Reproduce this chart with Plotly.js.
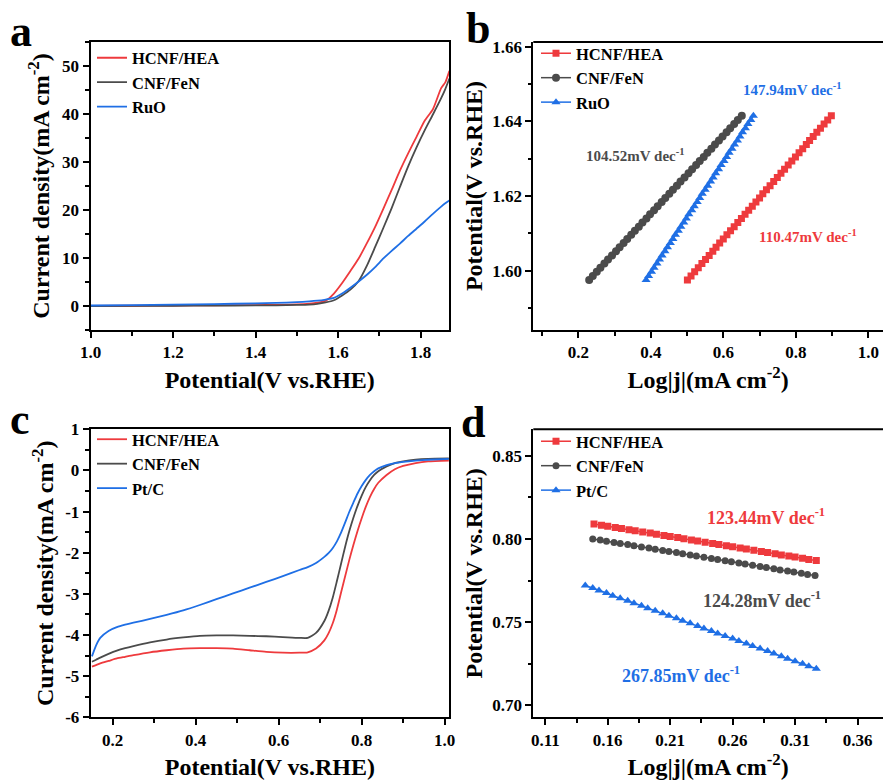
<!DOCTYPE html>
<html><head><meta charset="utf-8">
<script src="https://cdn.plot.ly/plotly-3.0.1.min.js"></script>
<style>html,body{margin:0;padding:0;background:#fff}#chart{width:883px;height:780px}</style>
</head><body><div id="chart"></div>
<script>
// ---------- Panel a : OER LSV ----------
const potA   = [1.00,1.10,1.20,1.30,1.40,1.45,1.50,1.53,1.55,1.57,1.59,1.61,1.63,1.65,1.67,1.69,1.71,1.73,1.75,1.77,1.79,1.81,1.83,1.85,1.86,1.87];
const hcnfA  = [0.0,0.05,0.1,0.15,0.2,0.25,0.35,0.5,0.7,1.1,2.6,4.8,7.3,9.9,13.1,16.5,20.3,24.2,28.2,31.8,35.2,38.6,41.0,45.4,46.6,49.0];
const cnfA   = [0.0,0.02,0.05,0.08,0.12,0.15,0.22,0.3,0.45,0.75,1.2,2.2,3.4,5.2,8.4,12.3,16.3,20.4,24.8,29.1,33.0,36.6,39.9,43.3,45.2,47.4];
const ruoA   = [0.1,0.2,0.3,0.4,0.55,0.65,0.8,0.95,1.1,1.35,1.7,2.6,3.8,5.1,6.5,8.1,9.9,11.5,13.0,14.6,16.1,17.6,19.2,20.7,21.4,22.0];
const ticksAx = [1.0,1.2,1.4,1.6,1.8];          const labelsAx = ['1.0','1.2','1.4','1.6','1.8'];
const ticksAy = [0,10,20,30,40,50];             const labelsAy = ['0','10','20','30','40','50'];

// ---------- Panel b : OER Tafel ----------
const potB   = [1.5975,1.5986,1.5997,1.6008,1.6019,1.6030,1.6041,1.6052,1.6063,1.6074,1.6085,1.6096,1.6107,1.6118,1.6129,1.6140,1.6151,1.6162,1.6173,1.6184,1.6195,1.6206,1.6217,1.6228,1.6239,1.6250,1.6261,1.6272,1.6283,1.6294,1.6305,1.6316,1.6327,1.6338,1.6349,1.6360,1.6371,1.6382,1.6393,1.6404,1.6415];
const logjB_hcnf = [0.501,0.511,0.521,0.531,0.541,0.551,0.561,0.571,0.580,0.590,0.600,0.610,0.620,0.630,0.640,0.650,0.660,0.670,0.680,0.690,0.700,0.709,0.719,0.729,0.739,0.749,0.759,0.769,0.779,0.789,0.799,0.809,0.819,0.829,0.838,0.848,0.858,0.868,0.878,0.888,0.898];
const logjB_cnf  = [0.230,0.240,0.251,0.261,0.272,0.282,0.293,0.304,0.314,0.325,0.335,0.346,0.356,0.367,0.377,0.388,0.398,0.409,0.419,0.430,0.440,0.451,0.461,0.472,0.482,0.493,0.504,0.514,0.525,0.535,0.546,0.556,0.567,0.577,0.588,0.598,0.609,0.619,0.630,0.640,0.651];
const logjB_ruo  = [0.387,0.394,0.402,0.409,0.417,0.424,0.431,0.439,0.446,0.454,0.461,0.468,0.476,0.483,0.491,0.498,0.505,0.513,0.520,0.528,0.535,0.542,0.550,0.557,0.565,0.572,0.579,0.587,0.594,0.602,0.609,0.616,0.624,0.631,0.639,0.646,0.653,0.661,0.668,0.676,0.683];
const slopeB = ['110.47','104.52','147.94'];
const ticksBx = [0.2,0.4,0.6,0.8,1.0];          const labelsBx = ['0.2','0.4','0.6','0.8','1.0'];
const ticksBy = [1.60,1.62,1.64,1.66];          const labelsBy = ['1.60','1.62','1.64','1.66'];

// ---------- Panel c : ORR LSV ----------
const potC  = [0.15,0.16,0.17,0.19,0.21,0.23,0.25,0.29,0.33,0.37,0.41,0.45,0.49,0.53,0.57,0.61,0.65,0.67,0.69,0.71,0.72,0.73,0.74,0.75,0.76,0.77,0.78,0.79,0.80,0.81,0.82,0.83,0.84,0.86,0.88,0.90,0.93,0.96,1.01];
const hcnfC = [-4.77,-4.73,-4.69,-4.63,-4.57,-4.53,-4.49,-4.42,-4.37,-4.33,-4.32,-4.32,-4.33,-4.37,-4.41,-4.43,-4.43,-4.42,-4.33,-4.13,-3.96,-3.72,-3.39,-2.98,-2.58,-2.18,-1.81,-1.47,-1.16,-0.88,-0.64,-0.45,-0.30,-0.11,0.03,0.11,0.18,0.22,0.24];
const cnfC  = [-4.65,-4.60,-4.55,-4.46,-4.38,-4.32,-4.27,-4.18,-4.11,-4.06,-4.02,-4.01,-4.01,-4.02,-4.03,-4.05,-4.07,-4.07,-3.95,-3.66,-3.42,-3.10,-2.70,-2.28,-1.86,-1.48,-1.15,-0.86,-0.61,-0.40,-0.24,-0.11,-0.02,0.10,0.18,0.22,0.26,0.28,0.29];
const ptcC  = [-4.52,-4.25,-4.07,-3.90,-3.81,-3.75,-3.70,-3.61,-3.51,-3.40,-3.27,-3.13,-2.99,-2.85,-2.71,-2.57,-2.42,-2.35,-2.25,-2.10,-2.01,-1.89,-1.73,-1.52,-1.27,-1.01,-0.78,-0.56,-0.38,-0.23,-0.11,-0.02,0.05,0.13,0.18,0.21,0.24,0.26,0.28];
const ticksCx = [0.2,0.4,0.6,0.8,1.0];          const labelsCx = ['0.2','0.4','0.6','0.8','1.0'];
const ticksCy = [-6,-5,-4,-3,-2,-1,0,1];        const labelsCy = ['-6','-5','-4','-3','-2','-1','0','1'];

// ---------- Panel d : ORR Tafel ----------
const logjD_hcnf = [0.149,0.155,0.160,0.166,0.171,0.177,0.182,0.188,0.194,0.199,0.205,0.210,0.216,0.221,0.227,0.232,0.238,0.244,0.249,0.255,0.260,0.266,0.271,0.277,0.283,0.288,0.294,0.299,0.305,0.310,0.316,0.321,0.327];
const potD_hcnf  = [0.8090,0.8083,0.8076,0.8069,0.8063,0.8056,0.8049,0.8042,0.8035,0.8028,0.8021,0.8014,0.8008,0.8001,0.7994,0.7987,0.7980,0.7973,0.7966,0.7959,0.7953,0.7946,0.7939,0.7932,0.7925,0.7918,0.7911,0.7904,0.7898,0.7891,0.7884,0.7877,0.7870];
const logjD_cnf  = [0.148,0.154,0.159,0.165,0.170,0.176,0.181,0.187,0.193,0.198,0.204,0.209,0.215,0.220,0.226,0.231,0.237,0.243,0.248,0.254,0.259,0.265,0.270,0.276,0.282,0.287,0.293,0.298,0.304,0.309,0.315,0.320,0.326];
const potD_cnf   = [0.8000,0.7993,0.7986,0.7979,0.7973,0.7966,0.7959,0.7952,0.7945,0.7938,0.7931,0.7924,0.7918,0.7911,0.7904,0.7897,0.7890,0.7883,0.7876,0.7869,0.7863,0.7856,0.7849,0.7842,0.7835,0.7828,0.7821,0.7814,0.7808,0.7801,0.7794,0.7787,0.7780];
const logjD_ptc  = [0.142,0.148,0.153,0.159,0.164,0.170,0.176,0.181,0.187,0.192,0.198,0.204,0.209,0.215,0.220,0.226,0.232,0.237,0.243,0.248,0.254,0.260,0.265,0.271,0.276,0.282,0.288,0.293,0.299,0.304,0.310,0.316,0.321,0.327];
const potD_ptc   = [0.7720,0.7705,0.7690,0.7675,0.7659,0.7644,0.7629,0.7614,0.7599,0.7584,0.7568,0.7553,0.7538,0.7523,0.7508,0.7493,0.7477,0.7462,0.7447,0.7432,0.7417,0.7402,0.7386,0.7371,0.7356,0.7341,0.7326,0.7311,0.7295,0.7280,0.7265,0.7250,0.7235,0.7220];
const slopeD = ['123.44','124.28','267.85'];
const ticksDx = [0.11,0.16,0.21,0.26,0.31,0.36]; const labelsDx = ['0.11','0.16','0.21','0.26','0.31','0.36'];
const ticksDy = [0.70,0.75,0.80,0.85];           const labelsDy = ['0.70','0.75','0.80','0.85'];

// ---------- styling ----------
const RED = '#ee3a3d', GRAY = '#4b4b4b', BLUE = '#1f6fe5';
const FAM = 'Liberation Serif, Times New Roman, serif';
function fnt(size, color){ return {family: FAM, weight: 'bold', size: size, color: color || '#000'}; }
const W = 883, H = 780;
const px = v => v / W, py = v => 1 - v / H;
const bold = arr => arr.map(s => '<b>' + s + '</b>');

function axis(vals, labels, o){
  return Object.assign({
    showline:true, linewidth:2, linecolor:'#000', mirror:true,
    ticks:'outside', ticklen:6, tickwidth:2, tickcolor:'#000',
    tickmode:'array', tickvals:vals, ticktext:bold(labels),
    showgrid:false, zeroline:false, tickfont:fnt(17), fixedrange:true, automargin:false
  }, o);
}
function minor(d, t0){ return {ticks:'outside', ticklen:3.5, tickwidth:2, tickcolor:'#000', dtick:d, tick0:t0, showgrid:false}; }

const line = (x,y,name,color,xa,ya,leg) => ({x:x, y:y, name:name, type:'scatter', mode:'lines',
  line:{color:color, width:1.8, shape:'spline', smoothing:0.6}, xaxis:xa, yaxis:ya, legend:leg});
const mk = (x,y,name,color,sym,size,xa,ya,leg) => ({x:x, y:y, name:name, type:'scatter', mode:'lines+markers',
  line:{color:color, width:1.5}, marker:{symbol:sym, size:size, color:color}, xaxis:xa, yaxis:ya, legend:leg});

const data = [
  line(potA, hcnfA, 'HCNF/HEA', RED, 'x', 'y', 'legend'),
  line(potA, cnfA,  'CNF/FeN',  GRAY,'x', 'y', 'legend'),
  line(potA, ruoA,  'RuO',      BLUE,'x', 'y', 'legend'),
  mk(logjB_hcnf, potB, 'HCNF/HEA', RED, 'square', 7, 'x2','y2','legend2'),
  mk(logjB_cnf,  potB, 'CNF/FeN',  GRAY,'circle', 8, 'x2','y2','legend2'),
  mk(logjB_ruo,  potB, 'RuO',      BLUE,'triangle-up', 8, 'x2','y2','legend2'),
  line(potC, hcnfC, 'HCNF/HEA', RED, 'x3', 'y3', 'legend3'),
  line(potC, cnfC,  'CNF/FeN',  GRAY,'x3', 'y3', 'legend3'),
  line(potC, ptcC,  'Pt/C',     BLUE,'x3', 'y3', 'legend3'),
  mk(logjD_hcnf, potD_hcnf, 'HCNF/HEA', RED, 'square', 7, 'x4','y4','legend4'),
  mk(logjD_cnf,  potD_cnf,  'CNF/FeN',  GRAY,'circle', 7, 'x4','y4','legend4'),
  mk(logjD_ptc,  potD_ptc,  'Pt/C',     BLUE,'triangle-up', 8, 'x4','y4','legend4')
];

const legBase = {xanchor:'left', yanchor:'top', font:fnt(16.5), bgcolor:'rgba(0,0,0,0)', borderwidth:0, tracegroupgap:0, itemwidth:30};
const TT = 24;

const layout = {
  width: W, height: H, margin:{l:0,r:0,t:0,b:0}, paper_bgcolor:'#fff', plot_bgcolor:'#fff',
  font: fnt(17), showlegend:true,
  xaxis:  axis(ticksAx, labelsAx, {domain:[px(90.5), px(449)], range:[1.0, 1.869], minor:minor(0.1, 1.0), anchor:'y',
           title:{text:'Potential(V vs.RHE)', font:fnt(TT), standoff:10}}),
  yaxis:  axis(ticksAy, labelsAy, {domain:[py(330), py(42)], range:[-5, 55], minor:minor(5, 0), anchor:'x',
           title:{text:'Current density(mA cm<sup>-2</sup>)', font:fnt(TT), standoff:6}}),
  xaxis2: axis(ticksBx, labelsBx, {domain:[px(533.3), 1], range:[0.0759, 1.0405], minor:minor(0.1, 0), anchor:'y2', mirror:false,
           title:{text:'Log|j|(mA cm<sup>-2</sup>)', font:fnt(TT), standoff:10}}),
  yaxis2: axis(ticksBy, labelsBy, {domain:[py(330), py(42)], range:[1.5841, 1.6613], minor:minor(0.01, 1.60), anchor:'x2', mirror:false,
           title:{text:'Potential(V vs.RHE)', font:fnt(TT), standoff:3}}),
  xaxis3: axis(ticksCx, labelsCx, {domain:[px(90.7), px(449)], range:[0.147, 1.0104], minor:minor(0.1, 0), anchor:'y3',
           title:{text:'Potential(V vs.RHE)', font:fnt(TT), standoff:10}}),
  yaxis3: axis(ticksCy, labelsCy, {domain:[py(717.3), py(429.3)], range:[-6, 1], minor:minor(0.5, 0), anchor:'x3',
           title:{text:'Current density(mA cm<sup>-2</sup>)', font:fnt(TT), standoff:5}}),
  xaxis4: axis(ticksDx, labelsDx, {domain:[px(533.3), 1], range:[0.1004, 0.3804], minor:minor(0.025, 0.11), anchor:'y4', mirror:false,
           title:{text:'Log|j|(mA cm<sup>-2</sup>)', font:fnt(TT), standoff:10}}),
  yaxis4: axis(ticksDy, labelsDy, {domain:[py(717.3), py(429.3)], range:[0.6928, 0.8659], minor:minor(0.025, 0.70), anchor:'x4', mirror:false,
           title:{text:'Potential(V vs.RHE)', font:fnt(TT), standoff:3}}),
  legend:  Object.assign({}, legBase, {x: px(92),  y: py(40.5)}),
  legend2: Object.assign({}, legBase, {x: px(536), y: py(36)}),
  legend3: Object.assign({}, legBase, {x: px(92),  y: py(422)}),
  legend4: Object.assign({}, legBase, {x: px(536), y: py(424)}),
  shapes: [
    {type:'line', xref:'paper', yref:'paper', x0:px(533.3), x1:1, y0:py(42), y1:py(42), line:{color:'#000', width:2}},
    {type:'line', xref:'paper', yref:'paper', x0:px(533.3), x1:1, y0:py(429.3), y1:py(429.3), line:{color:'#000', width:2}}
  ],
  annotations: [
    {text:'a', xref:'paper', yref:'paper', x:px(8),   y:py(32),  xanchor:'left', yanchor:'middle', showarrow:false, font:fnt(44)},
    {text:'b', xref:'paper', yref:'paper', x:px(464), y:py(29),  xanchor:'left', yanchor:'middle', showarrow:false, font:fnt(44)},
    {text:'c', xref:'paper', yref:'paper', x:px(8),   y:py(419), xanchor:'left', yanchor:'middle', showarrow:false, font:fnt(44)},
    {text:'d', xref:'paper', yref:'paper', x:px(459), y:py(422), xanchor:'left', yanchor:'middle', showarrow:false, font:fnt(44)},
    {text:slopeB[1] + 'mV dec<sup>-1</sup>', xref:'paper', yref:'paper', x:px(635), y:py(155), xanchor:'center', yanchor:'middle', showarrow:false, font:fnt(15, GRAY)},
    {text:slopeB[2] + 'mV dec<sup>-1</sup>', xref:'paper', yref:'paper', x:px(792), y:py(89),  xanchor:'center', yanchor:'middle', showarrow:false, font:fnt(15, BLUE)},
    {text:slopeB[0] + 'mV dec<sup>-1</sup>', xref:'paper', yref:'paper', x:px(808), y:py(236), xanchor:'center', yanchor:'middle', showarrow:false, font:fnt(15, RED)},
    {text:slopeD[0] + 'mV dec<sup>-1</sup>', xref:'paper', yref:'paper', x:px(766), y:py(516), xanchor:'center', yanchor:'middle', showarrow:false, font:fnt(18, RED)},
    {text:slopeD[1] + 'mV dec<sup>-1</sup>', xref:'paper', yref:'paper', x:px(762), y:py(599), xanchor:'center', yanchor:'middle', showarrow:false, font:fnt(18, GRAY)},
    {text:slopeD[2] + 'mV dec<sup>-1</sup>', xref:'paper', yref:'paper', x:px(681), y:py(674), xanchor:'center', yanchor:'middle', showarrow:false, font:fnt(18, BLUE)}
  ]
};

Plotly.newPlot('chart', data, layout, {staticPlot:true, displayModeBar:false});
</script></body></html>
